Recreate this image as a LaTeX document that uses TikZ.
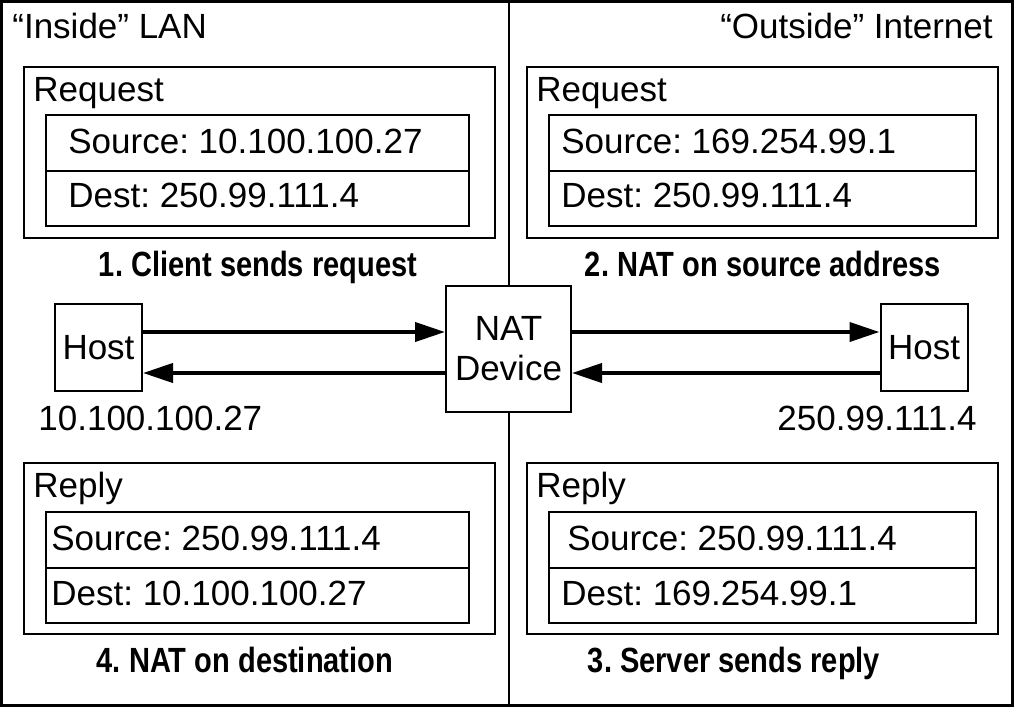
\documentclass[tikz,border=0pt]{standalone}
\usepackage{fontspec}
\setmainfont{Liberation Sans}[BoldFeatures={FakeStretch=0.83}]
\usetikzlibrary{arrows.meta,positioning}
\frenchspacing

\tikzset{
  pkt/.style={draw,line width=1pt,inner sep=0,outer sep=0,anchor=north west,minimum width=471*0.5pt,minimum height=171*0.5pt},
  row/.style={draw,line width=1pt,inner sep=0,outer sep=0,anchor=north west,minimum height=55.5*0.5pt},
  txt/.style={inner sep=0,anchor=base west},
  caption/.style={inner sep=0,anchor=base,font=\fontsize{17.5}{21}\bfseries},
  hostbox/.style={draw,line width=1pt,inner sep=0,minimum width=87*0.5pt,minimum height=87*0.5pt},
  natbox/.style={draw,line width=1pt,inner sep=0,align=center,minimum width=125*0.5pt,minimum height=126*0.5pt,font=\fontsize{17.5}{20}\selectfont},
  flow/.style={line width=2pt,-{Triangle[length=15pt,width=9.5pt]}},
}

\begin{document}
\begin{tikzpicture}[x=0.5pt,y=-0.5pt,font=\fontsize{17.5}{21}\selectfont]
  \useasboundingbox (0,0) rectangle (1014,707);
  \draw[line width=1.5pt] (1.5,1.5) rectangle (1012.5,705.5);

  % inside LAN, request
  \node[txt] (lan) at (12,38) {“Inside” LAN};
  \node[pkt] (req1) at (24,67) {};
  \node[txt] (req1t) at (33,101) {Request};
  \node[row,minimum width=423*0.5pt] (src1) at (45.5,115) {};
  \node[row,minimum width=423*0.5pt] (dst1) at (src1.south west) {};
  \node[txt] (src1t) at (68,153) {Source: 10.100.100.27};
  \node[txt] (dst1t) at (68,207) {Dest: 250.99.111.4};
  \node[caption] (cap1) at (258,276) {1. Client sends request};

  % outside internet, request
  \node[inner sep=0,anchor=base east] (inet) at (993,38) {“Outside” Internet};
  \node[pkt] (req2) at (527,67) {};
  \node[txt] (req2t) at (536,101) {Request};
  \node[row,minimum width=427*0.5pt] (src2) at (548.5,115) {};
  \node[row,minimum width=427*0.5pt] (dst2) at (src2.south west) {};
  \node[txt] (src2t) at (561,153) {Source: 169.254.99.1};
  \node[txt] (dst2t) at (561,207) {Dest: 250.99.111.4};
  \node[caption] (cap2) at (763,276) {2. NAT on source address};

  % hosts and NAT device
  \node[hostbox] (hostL) at (98.5,347.5) {Host};
  \node[natbox] (nat) at (508.5,349) {NAT\\Device};
  \node[hostbox] (hostR) at (924,347.5) {Host};
  \node[txt] (ipL) at (38,430) {10.100.100.27};
  \node[inner sep=0,anchor=base east] (ipR) at (977,430) {250.99.111.4};
  \draw[line width=1pt] (nat.north) -- (nat.north |- 0,0);
  \draw[line width=1pt] (nat.south) -- (nat.south |- 0,707);
  \coordinate (up) at (0,332); \coordinate (dn) at (0,373);
  \draw[flow] (hostL.east |- up) -- (nat.west |- up);
  \draw[flow] (nat.west |- dn) -- (hostL.east |- dn);
  \draw[flow] (nat.east |- up) -- (hostR.west |- up);
  \draw[flow] (hostR.west |- dn) -- (nat.east |- dn);

  % inside LAN, reply
  \node[pkt] (rep4) at (24,463) {};
  \node[txt] (rep4t) at (33,497) {Reply};
  \node[row,minimum width=423*0.5pt] (src4) at (45.5,512) {};
  \node[row,minimum width=423*0.5pt] (dst4) at (src4.south west) {};
  \node[txt] (src4t) at (51,550) {Source: 250.99.111.4};
  \node[txt] (dst4t) at (51,605) {Dest: 10.100.100.27};
  \node[caption] (cap4) at (245,672) {4. NAT on destination};

  % outside internet, reply
  \node[pkt] (rep3) at (527,463) {};
  \node[txt] (rep3t) at (536,497) {Reply};
  \node[row,minimum width=427*0.5pt] (src3) at (548.5,512) {};
  \node[row,minimum width=427*0.5pt] (dst3) at (src3.south west) {};
  \node[txt] (src3t) at (567,550) {Source: 250.99.111.4};
  \node[txt] (dst3t) at (561,605) {Dest: 169.254.99.1};
  \node[caption] (cap3) at (734,672) {3. Server sends reply};
\end{tikzpicture}
\end{document}
